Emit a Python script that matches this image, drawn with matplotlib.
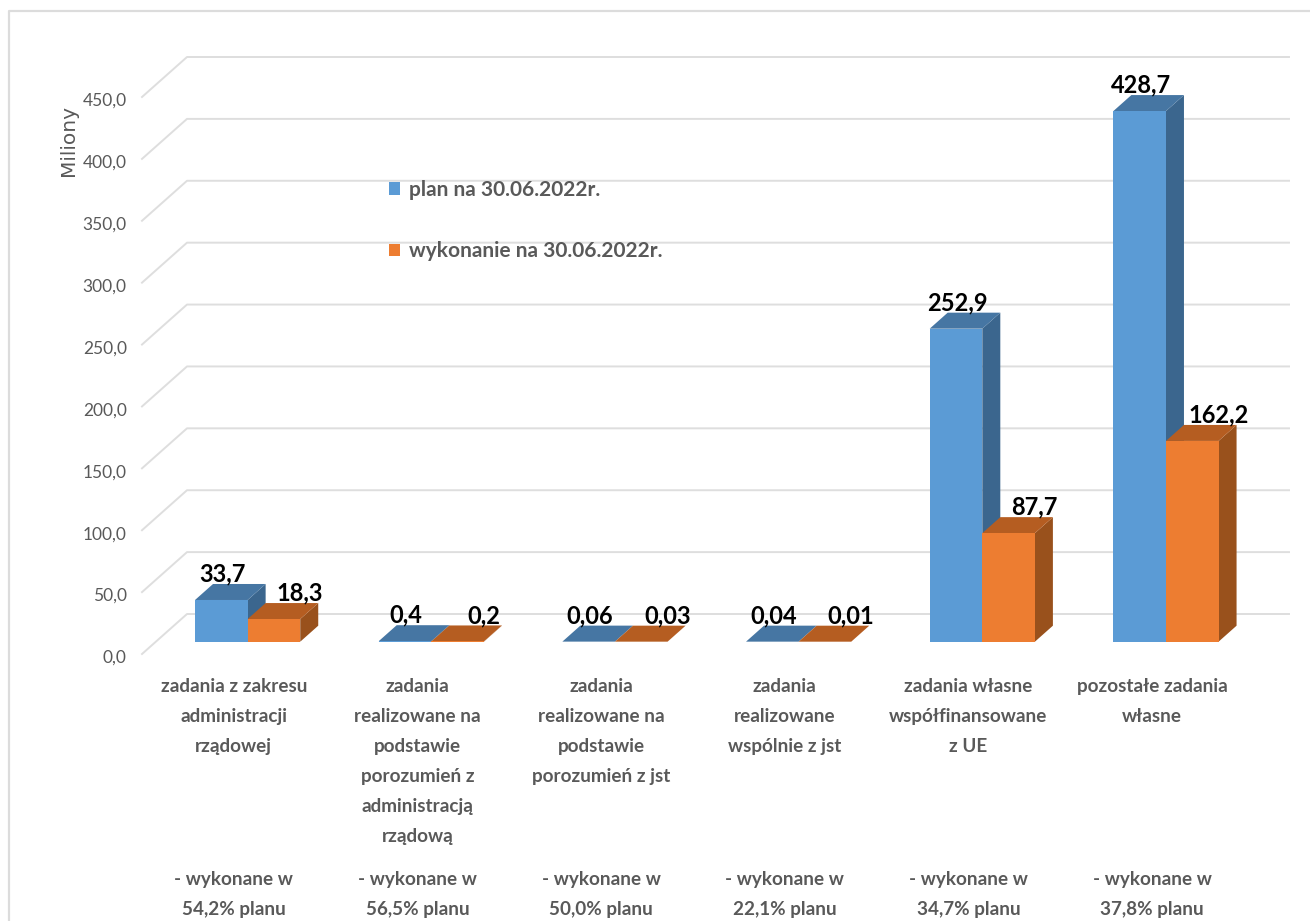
import matplotlib
matplotlib.use("Agg")
import matplotlib.pyplot as plt
from matplotlib.lines import Line2D
from matplotlib.patches import Polygon, Patch
from matplotlib.transforms import ScaledTranslation

categories = [
    "zadania z zakresu\nadministracji\nrządowej",
    "zadania\nrealizowane na\npodstawie\nporozumień z\nadministracją\nrządową",
    "zadania\nrealizowane na\npodstawie\nporozumień z jst",
    "zadania\nrealizowane\nwspólnie z jst",
    "zadania własne\nwspółfinansowane\nz UE",
    "pozostałe zadania\nwłasne",
]
notes = [
    "- wykonane w\n54,2% planu",
    "- wykonane w\n56,5% planu",
    "- wykonane w\n50,0% planu",
    "- wykonane w\n22,1% planu",
    "- wykonane w\n34,7% planu",
    "- wykonane w\n37,8% planu",
]
plan = [33.7, 0.4, 0.06, 0.04, 252.9, 428.7]
wykonanie = [18.3, 0.2, 0.03, 0.01, 87.7, 162.2]
plan_labels = ["33,7", "0,4", "0,06", "0,04", "252,9", "428,7"]
wykonanie_labels = ["18,3", "0,2", "0,03", "0,01", "87,7", "162,2"]
series_names = ["plan na 30.06.2022r.", "wykonanie na 30.06.2022r."]
y_ticks = [0, 50, 100, 150, 200, 250, 300, 350, 400, 450]
y_tick_labels = ["0,0", "50,0", "100,0", "150,0", "200,0", "250,0", "300,0", "350,0", "400,0", "450,0"]

FONT = ["Lato", "DejaVu Sans"]
GRAY = "#595959"
GRID = "#DEDEDE"
W, H = 1310, 921
L, R, B, T = 142, 1244, 654, 97

fig = plt.figure(figsize=(W / 100, H / 100), dpi=100, facecolor="white")
ax = fig.add_axes([L / W, (H - B) / H, (R - L) / W, (B - T) / H])
ax.set_xlim(-0.5, 5.5)
ax.set_ylim(0, 450)
ax.patch.set_alpha(0)
for s in ax.spines.values():
    s.set_visible(False)

ux = 6 / (R - L)      # data units per pixel, horizontal
uy = 450 / (B - T)    # data units per pixel, vertical

# frame
fig.add_artist(Line2D([9 / W, 9 / W, 1], [0, 1 - 11 / H, 1 - 11 / H], color="#DCDCDC", lw=1.6))

# walls
for v in y_ticks:
    ax.plot([-0.5, -0.5 + 45 * ux, 5.5 + 45 * ux], [v, v + 40 * uy, v + 40 * uy],
            color=GRID, lw=1.4, clip_on=False, zorder=1)

bw = 52.6 * ux
x0 = 13.8 * ux
base = 12.3 * uy
dx, dy = 18 * ux, 16 * uy


def bar3d(x, v, front, top, side, z):
    ax.add_patch(Polygon([[x + bw / 2, base], [x + bw / 2 + dx, base + dy],
                          [x + bw / 2 + dx, base + v + dy], [x + bw / 2, base + v]],
                         fc=side, ec="none", clip_on=False, zorder=z))
    ax.add_patch(Polygon([[x - bw / 2, base + v], [x + bw / 2, base + v],
                          [x + bw / 2 + dx, base + v + dy], [x - bw / 2 + dx, base + v + dy]],
                         fc=top, ec="none", clip_on=False, zorder=z))
    ax.bar(x, v, width=bw, bottom=base, color=front, zorder=z + 0.1, clip_on=False)


for i in range(len(plan)):
    xb = i + x0 - bw / 2
    xo = i + x0 + bw / 2
    bar3d(xb, plan[i], "#5B9BD5", "#4676A3", "#3B668E", 2 + i * 0.01)
    bar3d(xo, wykonanie[i], "#ED7D31", "#B55D21", "#99511C", 3 + i * 0.01)
    ax.text(xb + 1 * ux, base + plan[i] + 26 * uy, plan_labels[i], ha="center", va="center",
            fontsize=17, fontweight="bold", family=FONT, color="black", zorder=6)
    ax.text(xo + 26 * ux, base + wykonanie[i] + 26 * uy, wykonanie_labels[i], ha="center", va="center",
            fontsize=17, fontweight="bold", family=FONT, color="black", zorder=6)
    ax.text(i, -(878 - 654 - 7) * uy, notes[i], ha="center", va="top", fontsize=13.6,
            fontweight="bold", family=FONT, color=GRAY, linespacing=1.93, clip_on=False)

ax.set_yticks(y_ticks, y_tick_labels, fontsize=12.5, family=FONT, color=GRAY)
ax.set_xticks(range(len(categories)), categories, fontsize=13.6, fontweight="bold",
              family=FONT, color=GRAY, linespacing=1.93)
ax.tick_params(axis="y", length=0, pad=11)
ax.tick_params(axis="x", length=0, pad=17)
for tick in ax.yaxis.get_major_ticks():
    tick.label1.set_transform(tick.label1.get_transform()
                              + ScaledTranslation(0, -2.5 / 100, fig.dpi_scale_trans))

fig.text(68 / W, 1 - 140 / H, "Miliony", rotation=90, ha="center", va="center",
         fontsize=14.5, color=GRAY, family="DejaVu Sans")

handles = [Patch(fc="#5B9BD5"), Patch(fc="#ED7D31")]
ax.legend(handles, series_names, loc="upper left", bbox_to_anchor=(389 / W, 1 - 180 / H),
          bbox_transform=fig.transFigure, frameon=False, handlelength=0.55, handleheight=0.55,
          handletextpad=0.4, labelspacing=1.98, borderpad=0, borderaxespad=0,
          prop={"family": FONT, "weight": "bold", "size": 15}, labelcolor=GRAY)

fig.savefig("out.png", dpi=100)
